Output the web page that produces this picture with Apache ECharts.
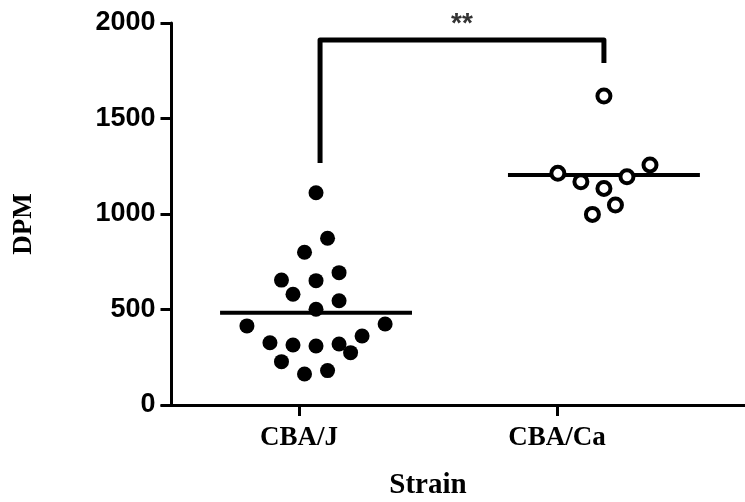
<!DOCTYPE html>
<html>
<head>
<meta charset="utf-8">
<script src="https://cdn.jsdelivr.net/npm/echarts@6/dist/echarts.min.js"></script>
<style>html,body{margin:0;padding:0;background:#fff}#c{width:745px;height:502px}</style>
</head>
<body>
<div id="c"></div>
<script>
// ---- data ----
const categories = ['CBA/J', 'CBA/Ca'];
const yTicks = [0, 500, 1000, 1500, 2000];
// CBA/J (filled): DPM values and horizontal scatter offsets (category units)
const cbaJValues  = [1111, 873, 800, 654, 651, 693, 580, 546, 501, 414, 424, 326, 314, 309, 319, 361, 274, 227, 162, 180];
const cbaJOffsets = [0, 0.04, -0.04, -0.12, 0, 0.08, -0.08, 0.08, 0, -0.24, 0.24, -0.16, -0.08, 0, 0.08, 0.16, 0.12, -0.12, -0.04, 0.04];
// CBA/Ca (open)
const cbaCaValues  = [1618, 1213, 1169, 1134, 1195, 1257, 1047, 998];
const cbaCaOffsets = [0, -0.16, -0.08, 0, 0.08, 0.16, 0.04, -0.04];
// group means (horizontal lines)
const groupMeans = [483, 1204];
// significance bracket (y values) and label
const bracketY = [1267, 1911, 1791];
const sigLabel = '**';

// ---- build ----
const groupPos = [1, 2];
const halfMean = 1 / 3;
const jData = cbaJValues.map((v, i) => [groupPos[0] + cbaJOffsets[i], v]);
const caData = cbaCaValues.map((v, i) => [groupPos[1] + cbaCaOffsets[i], v]);
const meanSeries = groupMeans.map((m, i) => ({
  type: 'line', xAxisIndex: 1, symbol: 'none', silent: true,
  lineStyle: { color: '#000', width: 4 },
  data: [[groupPos[i] - halfMean, m], [groupPos[i] + halfMean, m]],
  z: 3
}));

const chart = echarts.init(document.getElementById('c'), null, { renderer: 'canvas' });
chart.setOption({
  backgroundColor: '#fff',
  animation: false,
  grid: { left: 162, right: 0, top: 23, bottom: 97, containLabel: false },
  xAxis: [
    {
      type: 'value', min: 0.469, max: 2.729,
      splitLine: { show: false },
      axisLine: { lineStyle: { color: '#000', width: 3 } },
      axisTick: { customValues: groupPos, length: 11, lineStyle: { color: '#000', width: 3 } },
      axisLabel: {
        customValues: groupPos, margin: 20,
        formatter: v => categories[Math.round(v) - 1] || '',
        color: '#000', fontFamily: 'Liberation Serif', fontWeight: 'bold', fontSize: 27
      }
    },
    { type: 'value', min: 0.465, max: 2.49, show: false }
  ],
  yAxis: {
    type: 'value', min: 0, max: 2000, interval: 500, offset: -9.5,
    splitLine: { show: false },
    axisLine: { show: true, lineStyle: { color: '#000', width: 3 } },
    axisTick: { show: true, length: 11, lineStyle: { color: '#000', width: 3 } },
    axisLabel: {
      margin: 16, color: '#000', fontFamily: 'Liberation Sans', fontWeight: 'bold', fontSize: 27,
      formatter: v => yTicks.includes(v) ? String(v) : ''
    }
  },
  graphic: [
    { type: 'text', x: 428, y: 486, style: { text: 'Strain', fill: '#000', font: 'bold 29px "Liberation Serif"', textAlign: 'center', textVerticalAlign: 'middle' } },
    { type: 'text', x: 24, y: 224, rotation: Math.PI / 2, style: { text: 'DPM', fill: '#000', font: 'bold 27px "Liberation Serif"', textAlign: 'center', textVerticalAlign: 'middle' } }
  ],
  series: [
    {
      type: 'scatter', xAxisIndex: 1, symbol: 'circle', symbolSize: 15,
      itemStyle: { color: '#000', opacity: 1 }, data: jData, z: 4
    },
    {
      type: 'scatter', xAxisIndex: 1, symbol: 'circle', symbolSize: 13,
      itemStyle: { color: '#fff', borderColor: '#000', borderWidth: 4, opacity: 1 }, data: caData, z: 4
    },
    ...meanSeries,
    {
      type: 'line', xAxisIndex: 1, symbol: 'none', silent: true,
      lineStyle: { color: '#000', width: 5, join: 'round' },
      data: [[groupPos[0] + 0.014, bracketY[0]], [groupPos[0] + 0.014, bracketY[1]], [groupPos[1], bracketY[1]], [groupPos[1], bracketY[2]]]
    },
    {
      type: 'scatter', xAxisIndex: 1, symbolSize: 0, silent: true,
      data: [[(groupPos[0] + groupPos[1]) / 2 + 0.007, bracketY[1]]],
      label: { show: true, position: 'top', distance: 2, formatter: sigLabel, color: '#000', fontFamily: 'Liberation Sans', fontWeight: 'bold', fontSize: 28 }
    }
  ]
});
</script>
</body>
</html>
